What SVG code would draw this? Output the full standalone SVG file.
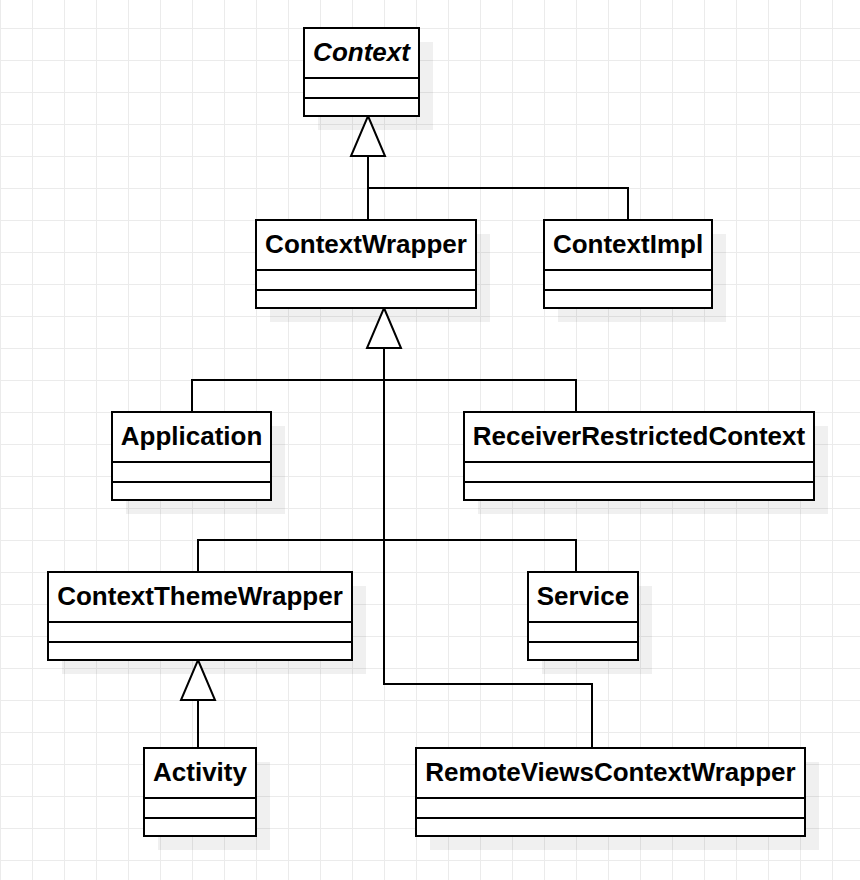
<svg xmlns="http://www.w3.org/2000/svg" width="860" height="880" viewBox="0 0 860 880">
<defs>
<pattern id="grid" patternUnits="userSpaceOnUse" x="0" y="28" width="32" height="32">
<path d="M0 0.5H32M0.5 0V32" fill="none" stroke="#ebebeb" stroke-width="1"/>
</pattern>
<style>
.shadow{fill:#000;fill-opacity:0.06}
.box{fill:#fff;stroke:#000;stroke-width:2}
.div{stroke:#000;stroke-width:2}
.title{font-family:"Liberation Sans",Arial,Helvetica,sans-serif;font-weight:bold;font-size:26px;fill:#000;text-anchor:middle}
.it{font-style:italic}
.edge{fill:none;stroke:#000;stroke-width:2}
.tri{fill:#fff;stroke:#000;stroke-width:2;stroke-linejoin:miter}
</style>
</defs>
<rect width="860" height="880" fill="#fff"/>
<rect width="860" height="880" fill="url(#grid)"/>

<g id="shadows">
<rect class="shadow" x="318" y="42" width="115" height="88"/>
<rect class="shadow" x="270" y="234" width="220" height="88"/>
<rect class="shadow" x="558" y="234" width="168" height="88"/>
<rect class="shadow" x="126" y="426" width="159" height="88"/>
<rect class="shadow" x="478" y="426" width="350" height="88"/>
<rect class="shadow" x="62" y="586" width="304" height="88"/>
<rect class="shadow" x="542" y="586" width="110" height="88"/>
<rect class="shadow" x="158" y="762" width="112" height="88"/>
<rect class="shadow" x="430" y="762" width="389" height="88"/>
</g>

<g id="connectors">
<path class="edge" d="M368 156V220M368 188H628V220"/>
<path class="edge" d="M384 348V684H592V748M192 412V380H576V412M198 572V540H576V572"/>
<path class="edge" d="M198 700V748"/>
<polygon class="tri" points="368,116 385,156 351,156"/>
<polygon class="tri" points="384,308 401,348 367,348"/>
<polygon class="tri" points="198,660 215,700 181,700"/>
</g>

<g id="Context">
<rect class="box" x="304" y="28" width="115" height="88"/>
<line class="div" x1="304" y1="78" x2="419" y2="78"/>
<line class="div" x1="304" y1="98" x2="419" y2="98"/>
<text class="title it" x="361.5" y="61">Context</text>
</g>

<g id="ContextWrapper">
<rect class="box" x="256" y="220" width="220" height="88"/>
<line class="div" x1="256" y1="270" x2="476" y2="270"/>
<line class="div" x1="256" y1="290" x2="476" y2="290"/>
<text class="title" x="366" y="253">ContextWrapper</text>
</g>

<g id="ContextImpl">
<rect class="box" x="544" y="220" width="168" height="88"/>
<line class="div" x1="544" y1="270" x2="712" y2="270"/>
<line class="div" x1="544" y1="290" x2="712" y2="290"/>
<text class="title" x="628" y="253">ContextImpl</text>
</g>

<g id="Application">
<rect class="box" x="112" y="412" width="159" height="88"/>
<line class="div" x1="112" y1="462" x2="271" y2="462"/>
<line class="div" x1="112" y1="482" x2="271" y2="482"/>
<text class="title" x="191.5" y="445">Application</text>
</g>

<g id="ReceiverRestrictedContext">
<rect class="box" x="464" y="412" width="350" height="88"/>
<line class="div" x1="464" y1="462" x2="814" y2="462"/>
<line class="div" x1="464" y1="482" x2="814" y2="482"/>
<text class="title" x="639" y="445">ReceiverRestrictedContext</text>
</g>

<g id="ContextThemeWrapper">
<rect class="box" x="48" y="572" width="304" height="88"/>
<line class="div" x1="48" y1="622" x2="352" y2="622"/>
<line class="div" x1="48" y1="642" x2="352" y2="642"/>
<text class="title" x="200" y="605">ContextThemeWrapper</text>
</g>

<g id="Service">
<rect class="box" x="528" y="572" width="110" height="88"/>
<line class="div" x1="528" y1="622" x2="638" y2="622"/>
<line class="div" x1="528" y1="642" x2="638" y2="642"/>
<text class="title" x="583" y="605">Service</text>
</g>

<g id="Activity">
<rect class="box" x="144" y="748" width="112" height="88"/>
<line class="div" x1="144" y1="798" x2="256" y2="798"/>
<line class="div" x1="144" y1="818" x2="256" y2="818"/>
<text class="title" x="200" y="781">Activity</text>
</g>

<g id="RemoteViewsContextWrapper">
<rect class="box" x="416" y="748" width="389" height="88"/>
<line class="div" x1="416" y1="798" x2="805" y2="798"/>
<line class="div" x1="416" y1="818" x2="805" y2="818"/>
<text class="title" x="610.5" y="781">RemoteViewsContextWrapper</text>
</g>
</svg>
